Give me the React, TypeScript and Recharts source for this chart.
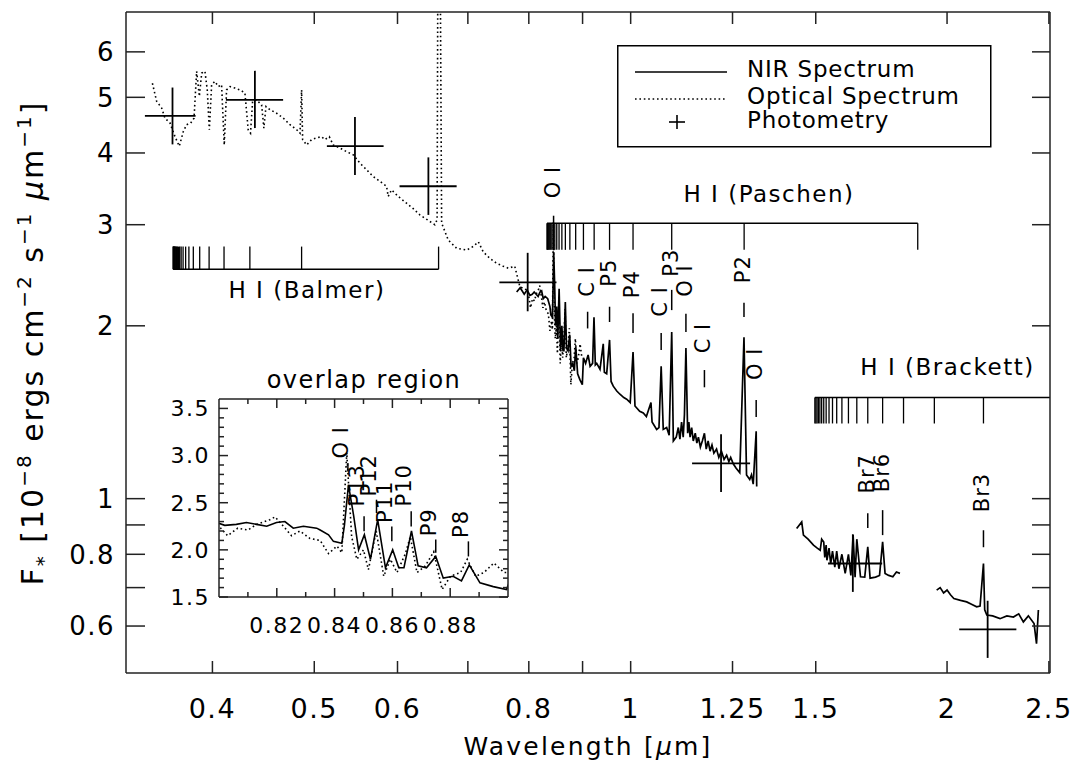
import React from 'react';
import { ComposedChart, Line, Scatter, XAxis, YAxis, ErrorBar, ReferenceLine, Legend } from 'recharts';

const FONT = '"DejaVu Sans", sans-serif';
const INK = '#000';
const FRAME = '#222';

// main axes (log-log)
const X_MIN = 0.331;
const X_MAX = 2.506;
const Y_MIN = 0.497;
const Y_MAX = 7.04;

const xTicks = [0.4, 0.5, 0.6, 0.7, 0.8, 0.9, 1, 1.25, 1.5, 2, 2.5];
const xTickLabels = ['0.4', '0.5', '0.6', '', '0.8', '', '1', '1.25', '1.5', '2', '2.5'];
const yTicks = [0.6, 0.7, 0.8, 0.9, 1, 2, 3, 4, 5, 6];
const yTickLabels = ['0.6', '', '0.8', '', '1', '2', '3', '4', '5', '6'];

// optical spectrum (dotted)
const optLam = [
  0.3507, 0.354, 0.3579, 0.3605, 0.3645, 0.3685, 0.372, 0.3753, 0.378, 0.3814, 0.3842, 0.3864, 0.3887,
  0.3907, 0.3935, 0.3955, 0.3973, 0.3993, 0.4022, 0.4052, 0.4081, 0.4105, 0.4126, 0.4157, 0.4202, 0.4248,
  0.4295, 0.4326, 0.4348, 0.4368, 0.4406, 0.4455, 0.4477, 0.4498, 0.4537, 0.4604, 0.4672, 0.4741, 0.4811,
  0.4846, 0.4863, 0.4874, 0.4917, 0.4971, 0.5026, 0.5081, 0.5118, 0.5167, 0.5212, 0.5289, 0.5367, 0.5446,
  0.5526, 0.5607, 0.5689, 0.5773, 0.5858, 0.5879, 0.5922, 0.601, 0.612, 0.621, 0.6301, 0.637, 0.644,
  0.6511, 0.6544, 0.6558, 0.6582, 0.6609, 0.6706, 0.6829, 0.6981, 0.7085, 0.7163, 0.724, 0.7347, 0.7455,
  0.7564, 0.7648, 0.7757, 0.7845, 0.7962,
  0.8, 0.803, 0.8065, 0.81, 0.813, 0.8176, 0.8194, 0.8223, 0.8251, 0.828, 0.8315, 0.835, 0.8379, 0.8408,
  0.8425, 0.8442, 0.8459, 0.8477, 0.85, 0.8517, 0.8544, 0.857, 0.8593, 0.8616, 0.8645, 0.8662, 0.8685,
  0.8714, 0.8743, 0.8772, 0.8801, 0.8836, 0.8859, 0.8888, 0.8917, 0.8951, 0.8986, 0.9,
];
const optF = [
  5.29, 4.92, 4.79, 4.6, 4.51, 4.27, 4.11, 4.36, 4.48, 4.51, 4.6, 5.55, 5.02,
  5.51, 5.55, 5.15, 4.39, 5.26, 5.33, 5.22, 5.26, 4.13, 5.15, 5.22, 5.19, 5.15,
  5.09, 4.39, 4.33, 4.92, 4.95, 4.85, 4.42, 4.82, 4.76, 4.69, 4.6, 4.48, 4.39,
  4.33, 5.15, 4.22, 4.13, 4.22, 4.25, 4.27, 4.22, 4.27, 4.13, 4.08, 4.02, 3.97,
  3.84, 3.74, 3.64, 3.57, 3.5, 3.36, 3.45, 3.36, 3.27, 3.2, 3.12, 3.08, 3.04,
  3.0, 3.06, 12, 12, 3.02, 2.82, 2.73, 2.71, 2.75, 2.8, 2.69, 2.62, 2.57,
  2.54, 2.52, 2.54, 2.34, 2.31,
  2.25, 2.15, 2.23, 2.21, 2.27, 2.32, 2.35, 2.25, 2.15, 2.2, 2.12, 2.1, 1.96, 2.04,
  1.97, 3.03, 2.14, 1.9, 2.0, 1.79, 2.2, 1.72, 1.9, 1.76, 1.96, 2.14, 1.76,
  1.83, 1.98, 1.58, 1.72, 1.76, 1.9, 1.72, 1.76, 1.86, 1.76, 1.76,
];

// NIR spectrum, J / H / K pieces (solid)
const nirJLam = [
  0.779, 0.785, 0.792, 0.797, 0.802, 0.806, 0.8095, 0.813, 0.8165, 0.8199, 0.8228, 0.8257, 0.8292, 0.8338,
  0.835, 0.8379, 0.8396, 0.8425, 0.8434, 0.8448, 0.8466, 0.8483, 0.8503, 0.8524, 0.8549, 0.8576, 0.8601,
  0.8622, 0.864, 0.8666, 0.8689, 0.8718, 0.875, 0.8776, 0.881, 0.8839, 0.8866, 0.8903, 0.8949, 0.8995,
  0.9017, 0.906, 0.911, 0.915, 0.92, 0.9228, 0.9255, 0.9283, 0.935, 0.9417, 0.944, 0.9488, 0.9548, 0.958,
  0.9626, 0.97, 0.9768, 0.985, 0.9913, 0.999, 1.0052, 1.0095, 1.02, 1.028, 1.035, 1.0455, 1.048, 1.0586,
  1.064, 1.0691, 1.074, 1.082, 1.088, 1.0941, 1.098, 1.105, 1.11, 1.114, 1.118, 1.122, 1.125, 1.1287,
  1.133, 1.136, 1.139, 1.143, 1.147, 1.152, 1.156, 1.16, 1.165, 1.17, 1.1754, 1.18, 1.185, 1.19, 1.195,
  1.2, 1.207, 1.213, 1.22, 1.227, 1.234, 1.24, 1.245, 1.252, 1.26, 1.27, 1.2818, 1.289, 1.298, 1.303,
  1.308, 1.3165, 1.318,
];
const nirJF = [
  2.29, 2.33, 2.27, 2.31, 2.26, 2.27, 2.29, 2.27, 2.25, 2.29, 2.3, 2.23, 2.25, 2.23,
  2.21, 2.16, 2.09, 2.07, 2.26, 2.69, 2.36, 2.0, 2.16, 1.9, 2.32, 1.81, 2.0,
  1.81, 1.81, 2.2, 1.83, 1.81, 1.93, 1.7, 1.72, 1.67, 1.84, 1.65, 1.61, 1.58,
  1.76, 1.72, 1.78, 1.7, 1.72, 2.07, 1.71, 1.72, 1.68, 1.86, 1.66, 1.65, 1.89, 1.6,
  1.57, 1.54, 1.52, 1.5, 1.49, 1.47, 1.8, 1.45, 1.42, 1.41, 1.39, 1.47, 1.36, 1.32,
  1.33, 1.7, 1.32, 1.33, 1.29, 1.95, 1.26, 1.28, 1.33, 1.27, 1.36, 1.28, 1.4, 1.83,
  1.3, 1.36, 1.28, 1.33, 1.26, 1.3, 1.25, 1.28, 1.23, 1.26, 1.3, 1.22, 1.26, 1.21, 1.24,
  1.2, 1.22, 1.18, 1.21, 1.17, 1.19, 1.16, 1.18, 1.15, 1.13, 1.11, 1.91, 1.1, 1.08, 1.1,
  1.06, 1.31, 1.05,
];
const nirHLam = [
  1.4386, 1.4546, 1.4601, 1.475, 1.4926, 1.505, 1.5147, 1.5196, 1.5265, 1.53, 1.5346, 1.5372, 1.5443,
  1.55, 1.5561, 1.564, 1.5705, 1.578, 1.5885, 1.6, 1.6114, 1.62, 1.628, 1.635, 1.6412, 1.6545, 1.67,
  1.6811, 1.6897, 1.71, 1.725, 1.7367, 1.746, 1.76, 1.776, 1.79, 1.804,
];
const nirHF = [
  0.887, 0.911, 0.864, 0.85, 0.83, 0.82, 0.813, 0.85, 0.84, 0.79, 0.83, 0.781, 0.82,
  0.77, 0.81, 0.76, 0.81, 0.755, 0.8, 0.741, 0.8, 0.735, 0.864, 0.73, 0.85, 0.731, 0.73,
  0.824, 0.727, 0.73, 0.735, 0.841, 0.741, 0.735, 0.731, 0.745, 0.741,
];
const nirKLam = [
  1.955, 1.97, 1.985, 2.0, 2.015, 2.03, 2.06, 2.088, 2.11, 2.134, 2.15, 2.1661, 2.172, 2.182, 2.21,
  2.246, 2.28, 2.313, 2.34, 2.364, 2.39, 2.42, 2.433, 2.443,
];
const nirKF = [
  0.693, 0.7, 0.685, 0.693, 0.68, 0.67, 0.665, 0.661, 0.655, 0.648, 0.65, 0.771, 0.64, 0.627, 0.625,
  0.618, 0.625, 0.622, 0.63, 0.61, 0.625, 0.606, 0.559, 0.64,
];

// photometry (centre and bar ends)
const photLam = [0.3665, 0.439, 0.5466, 0.642, 0.798, 1.219, 1.627, 2.186];
const photLamLo = [0.345, 0.412, 0.514, 0.6027, 0.75, 1.144, 1.541, 2.054];
const photLamHi = [0.3855, 0.467, 0.582, 0.683, 0.85, 1.299, 1.735, 2.328];
const photF = [4.64, 4.95, 4.11, 3.5, 2.38, 1.152, 0.771, 0.592];
const photFLo = [4.14, 4.42, 3.66, 3.12, 2.12, 1.027, 0.688, 0.528];
const photFHi = [5.2, 5.56, 4.62, 3.93, 2.68, 1.295, 0.867, 0.664];

// hydrogen series ladders (micron)
const balmerLam = [
  0.6565, 0.4863, 0.4342, 0.4103, 0.3971, 0.389, 0.3836, 0.3799, 0.3772, 0.3751, 0.3735, 0.3723,
  0.3713, 0.3704, 0.3698, 0.3692, 0.3687, 0.3683, 0.368, 0.3677, 0.3674, 0.3672, 0.367,
];
const paschenLam = [
  1.8756, 1.2822, 1.0941, 1.0052, 0.9548, 0.9231, 0.9017, 0.8865, 0.8753, 0.8667, 0.8601, 0.8548,
  0.8505, 0.8469, 0.844, 0.8415, 0.8394, 0.8376, 0.836, 0.8347, 0.8335, 0.8325,
];
const brackettLam = [
  2.6252, 2.1661, 1.9451, 1.8181, 1.7367, 1.6811, 1.6412, 1.6114, 1.5885, 1.5705, 1.5561, 1.5443,
  1.5346, 1.5265, 1.5196, 1.5137, 1.5087, 1.5043, 1.5004, 1.4971,
];
// ladder levels: [bar, tick end]
const balmerLevel = [2.509, 2.748];
const paschenLevel = [3.018, 2.712];
const brackettLevel = [1.501, 1.352];
const seriesTitle = ['H I (Balmer)', 'H I (Paschen)', 'H I (Brackett)'];
const seriesTitleLam = [0.492, 1.354, 2.002];
const seriesTitleF = [2.236, 3.291, 1.642];

// line identifications in main panel
const idName = ['O I', 'C I', 'P5', 'P4', 'C I', 'P3', 'O I', 'C I', 'P2', 'O I', 'Br7', 'Br6', 'Br3'];
const idLam = [0.8446, 0.91, 0.9548, 1.0052, 1.0691, 1.0941, 1.1287, 1.1754, 1.2818, 1.3165, 1.6811, 1.7367, 2.1661];
const idTextF = [3.337, 2.248, 2.34, 2.234, 2.075, 2.436, 2.248, 1.791, 2.372, 1.609, 1.021, 1.026, 0.947];
const idDashHi = [3.11, 2.116, 2.159, 2.104, 1.943, 2.31, 2.1, 1.675, 2.194, 1.485, 0.943, 0.955, 0.881];
const idDashLo = [2.71, 1.979, 2.031, 1.943, 1.815, 2.13, 1.95, 1.563, 2.072, 1.387, 0.889, 0.864, 0.823];

// inset ("overlap region")
const ovXTicks = [0.81, 0.82, 0.83, 0.84, 0.85, 0.86, 0.87, 0.88, 0.89];
const ovXLabeled = [0.82, 0.84, 0.86, 0.88];
const ovYTicks = [1.5, 1.6, 1.7, 1.8, 1.9, 2.0, 2.1, 2.2, 2.3, 2.4, 2.5, 2.6, 2.7, 2.8, 2.9, 3.0, 3.1, 3.2, 3.3, 3.4, 3.5];
const ovYLabeled = [1.5, 2.0, 2.5, 3.0, 3.5];
const ovIdName = ['O I', 'P13', 'P12', 'P11', 'P10', 'P9', 'P8'];
const ovIdLam = [0.8446, 0.8502, 0.8545, 0.8598, 0.8665, 0.875, 0.8863];
const ovIdTextF = [2.97, 2.461, 2.567, 2.285, 2.461, 2.143, 2.126];
const ovIdDashHi = [2.92, 2.357, 2.532, 2.249, 2.41, 2.11, 2.09];
const ovIdDashLo = [2.83, 2.198, 2.39, 2.09, 2.249, 1.97, 1.93];

const zip = (xs: number[], ys: number[]) => xs.map((x, i) => ({ x, y: ys[i] }));

const optData = zip(optLam, optF);
const nirJ = zip(nirJLam, nirJF);
const nirH = zip(nirHLam, nirHF);
const nirK = zip(nirKLam, nirKF);
const photData = photLam.map((x, i) => ({
  x,
  y: photF[i],
  ex: [x - photLamLo[i], photLamHi[i] - x],
  ey: [photF[i] - photFLo[i], photFHi[i] - photF[i]],
}));
const idData = idLam.map((x, i) => ({ x, y: idTextF[i], name: idName[i] }));
const titleData = seriesTitleLam.map((x, i) => ({ x, y: seriesTitleF[i], name: seriesTitle[i] }));
const ovIdData = ovIdLam.map((x, i) => ({ x, y: ovIdTextF[i], name: ovIdName[i] }));

type Side = 'bottom' | 'top' | 'left' | 'right';
const makeTick =
  (side: Side, lenOf: (v: number) => number, labelOf: (v: number) => string, fs: number, off: number) =>
  (p: any) => {
    const { x, y, payload } = p;
    const v = payload.value;
    const L = lenOf(v);
    let x2 = x;
    let y2 = y;
    if (side === 'bottom') y2 = y - L;
    else if (side === 'top') y2 = y + L;
    else if (side === 'left') x2 = x + L;
    else x2 = x - L;
    const lab = labelOf(v);
    let label = null;
    if (lab) {
      if (side === 'bottom') {
        label = (
          <text x={x} y={y + off} textAnchor="middle" fontSize={fs} fontFamily={FONT} fill={INK} letterSpacing={1.5}>
            {lab}
          </text>
        );
      } else if (side === 'left') {
        label = (
          <text x={x - off} y={y + fs * 0.36} textAnchor="end" fontSize={fs} fontFamily={FONT} fill={INK} letterSpacing={1.5}>
            {lab}
          </text>
        );
      }
    }
    return (
      <g>
        <line x1={x} y1={y} x2={x2} y2={y2} stroke={FRAME} strokeWidth={1.5} />
        {label}
      </g>
    );
  };

const none = () => '';
const xLab = (v: number) => xTickLabels[xTicks.indexOf(v)] || '';
const yLab = (v: number) => yTickLabels[yTicks.indexOf(v)] || '';
const near = (arr: number[], v: number) => arr.some((a) => Math.abs(a - v) < 1e-6);

const BottomTick = makeTick('bottom', () => 12, xLab, 27, 45);
const TopTick = makeTick('top', () => 12, none, 27, 0);
const LeftTick = makeTick('left', () => 19, yLab, 26, 11);
const RightTick = makeTick('right', () => 18, none, 26, 0);

const ovMajX = (v: number) => (near(ovXLabeled, v) ? 9 : 5);
const ovMajY = (v: number) => (near(ovYLabeled, v) ? 9 : 5);
const OvBottomTick = makeTick('bottom', ovMajX, (v) => (near(ovXLabeled, v) ? v.toFixed(2) : ''), 22, 36);
const OvTopTick = makeTick('top', ovMajX, none, 22, 0);
const OvLeftTick = makeTick('left', ovMajY, (v) => (near(ovYLabeled, v) ? v.toFixed(1) : ''), 22, 9);
const OvRightTick = makeTick('right', ovMajY, none, 22, 0);

const RotLabel = (dx: number, fs: number) => (p: any) => {
  const { cx, cy, payload } = p;
  const x = cx + dx;
  return (
    <text x={x} y={cy} transform={`rotate(-90 ${x} ${cy})`} fontSize={fs} fontFamily={FONT} fill={INK} letterSpacing={1}>
      {payload.name}
    </text>
  );
};
const FlatLabel = (p: any) => {
  const { cx, cy, payload } = p;
  return (
    <text x={cx} y={cy} textAnchor="middle" fontSize={23} fontFamily={FONT} fill={INK} letterSpacing={1.5}>
      {payload.name}
    </text>
  );
};

const XTitle = () => (
  <text x={588} y={755} textAnchor="middle" fontSize={25} fontFamily={FONT} fill={INK} letterSpacing={2.2}>
    Wavelength [<tspan fontStyle="italic">μ</tspan>m]
  </text>
);
const YTitle = () => (
  <text x={43} y={343} transform="rotate(-90 43 343)" textAnchor="middle" fontSize={30} fontFamily={FONT} fill={INK} letterSpacing={2}>
    F
    <tspan dy={7} fontSize={20}>*</tspan>
    <tspan dy={-7}> [10</tspan>
    <tspan dy={-12} fontSize={20}>−8</tspan>
    <tspan dy={12}> ergs cm</tspan>
    <tspan dy={-12} fontSize={20}>−2</tspan>
    <tspan dy={12}> s</tspan>
    <tspan dy={-12} fontSize={20}>−1</tspan>
    <tspan dy={12} fontStyle="italic">  μ</tspan>
    <tspan>m</tspan>
    <tspan dy={-12} fontSize={20}>−1</tspan>
    <tspan dy={12}>]</tspan>
  </text>
);

const LegendBox = () => (
  <svg width={375} height={103} style={{ display: 'block' }}>
    <rect x={0.75} y={0.75} width={373} height={101} fill="#fff" stroke={INK} strokeWidth={1.5} />
    <line x1={18} y1={27} x2={110} y2={27} stroke={INK} strokeWidth={1.6} />
    <text x={130} y={32} fontSize={23} fontFamily={FONT} fill={INK} letterSpacing={0.8}>NIR Spectrum</text>
    <line x1={18} y1={54} x2={110} y2={54} stroke={INK} strokeWidth={1.6} strokeDasharray="1.6 2.8" />
    <text x={130} y={59} fontSize={23} fontFamily={FONT} fill={INK} letterSpacing={0.8}>Optical Spectrum</text>
    <line x1={52} y1={77} x2={68} y2={77} stroke={INK} strokeWidth={1.6} />
    <line x1={60} y1={70} x2={60} y2={84} stroke={INK} strokeWidth={1.6} />
    <text x={130} y={83} fontSize={23} fontFamily={FONT} fill={INK} letterSpacing={0.8}>Photometry</text>
  </svg>
);

const ladder = (lams: number[], level: number[], key: string) => {
  const lo = Math.min(...lams);
  const hi = Math.max(...lams);
  const out = [
    <ReferenceLine
      key={`${key}-bar`}
      segment={[{ x: lo, y: level[0] }, { x: hi, y: level[0] }]}
      stroke={INK}
      strokeWidth={1.5}
      ifOverflow="hidden"
    />,
  ];
  lams.forEach((l, i) =>
    out.push(
      <ReferenceLine
        key={`${key}-${i}`}
        segment={[{ x: l, y: level[0] }, { x: l, y: level[1] }]}
        stroke={INK}
        strokeWidth={1.3}
        ifOverflow="hidden"
      />
    )
  );
  return out;
};

const dashes = (lams: number[], hi: number[], lo: number[], key: string, xId?: string, yId?: string) =>
  lams.map((l, i) => (
    <ReferenceLine
      key={`${key}-${i}`}
      xAxisId={xId ?? 0}
      yAxisId={yId ?? 0}
      segment={[{ x: l, y: hi[i] }, { x: l, y: lo[i] }]}
      stroke={INK}
      strokeWidth={1.5}
      ifOverflow="hidden"
    />
  ));

const OvTitle = () => (
  <text x={214} y={28} textAnchor="middle" fontSize={24} fontFamily={FONT} fill={INK} letterSpacing={1.5}>
    overlap region
  </text>
);

function Inset() {
  return (
    <div style={{ position: 'absolute', left: 150, top: 360 }}>
      <ComposedChart width={370} height={290} margin={{ top: 0, right: 0, bottom: 0, left: 0 }}>
        <XAxis
          xAxisId="b"
          dataKey="x"
          type="number"
          domain={[0.8, 0.9]}
          allowDataOverflow
          ticks={ovXTicks}
          interval={0}
          height={53}
          tickSize={0}
          tickMargin={0}
          tickLine={false}
          tick={OvBottomTick}
          axisLine={{ stroke: FRAME, strokeWidth: 1.5 }}
        />
        <XAxis
          xAxisId="t"
          orientation="top"
          dataKey="x"
          type="number"
          domain={[0.8, 0.9]}
          allowDataOverflow
          ticks={ovXTicks}
          interval={0}
          height={39}
          tickSize={0}
          tickMargin={0}
          tickLine={false}
          tick={OvTopTick}
          axisLine={{ stroke: FRAME, strokeWidth: 1.5 }}
          label={<OvTitle />}
        />
        <YAxis
          yAxisId="l"
          type="number"
          domain={[1.5, 3.6]}
          allowDataOverflow
          ticks={ovYTicks}
          interval={0}
          width={69}
          tickSize={0}
          tickMargin={0}
          tickLine={false}
          tick={OvLeftTick}
          axisLine={{ stroke: FRAME, strokeWidth: 1.5 }}
        />
        <YAxis
          yAxisId="r"
          orientation="right"
          type="number"
          domain={[1.5, 3.6]}
          allowDataOverflow
          ticks={ovYTicks}
          interval={0}
          width={12}
          tickSize={0}
          tickMargin={0}
          tickLine={false}
          tick={OvRightTick}
          axisLine={{ stroke: FRAME, strokeWidth: 1.5 }}
        />
        {dashes(ovIdLam, ovIdDashHi, ovIdDashLo, 'ovid', 'b', 'l')}
        <Line xAxisId="b" yAxisId="l" data={optData} dataKey="y" type="linear" stroke={INK} strokeWidth={1.6} strokeDasharray="1.6 2.8" dot={false} isAnimationActive={false} />
        <Line xAxisId="b" yAxisId="l" data={nirJ} dataKey="y" type="linear" stroke={INK} strokeWidth={1.6} dot={false} isAnimationActive={false} />
        <Scatter xAxisId="b" yAxisId="l" data={ovIdData} dataKey="y" shape={RotLabel(0, 21)} isAnimationActive={false} />
      </ComposedChart>
    </div>
  );
}

export default function App() {
  return (
    <div style={{ position: 'absolute', left: 0, top: 0, width: 1073, height: 764, background: '#fff' }}>
      <ComposedChart width={1073} height={764} margin={{ top: 0, right: 0, bottom: 0, left: 0 }}>
        <XAxis
          dataKey="x"
          type="number"
          scale="log"
          domain={[X_MIN, X_MAX]}
          allowDataOverflow
          ticks={xTicks}
          interval={0}
          height={91}
          tickSize={0}
          tickMargin={0}
          tickLine={false}
          tick={BottomTick}
          axisLine={{ stroke: FRAME, strokeWidth: 1.5 }}
          label={<XTitle />}
        />
        <XAxis
          xAxisId="top"
          orientation="top"
          dataKey="x"
          type="number"
          scale="log"
          domain={[X_MIN, X_MAX]}
          allowDataOverflow
          ticks={xTicks}
          interval={0}
          height={12}
          tickSize={0}
          tickMargin={0}
          tickLine={false}
          tick={TopTick}
          axisLine={{ stroke: FRAME, strokeWidth: 1.5 }}
        />
        <YAxis
          type="number"
          scale="log"
          domain={[Y_MIN, Y_MAX]}
          allowDataOverflow
          ticks={yTicks}
          interval={0}
          width={126}
          tickSize={0}
          tickMargin={0}
          tickLine={false}
          tick={LeftTick}
          axisLine={{ stroke: FRAME, strokeWidth: 1.5 }}
          label={<YTitle />}
        />
        <YAxis
          yAxisId="right"
          orientation="right"
          type="number"
          scale="log"
          domain={[Y_MIN, Y_MAX]}
          allowDataOverflow
          ticks={yTicks}
          interval={0}
          width={23}
          tickSize={0}
          tickMargin={0}
          tickLine={false}
          tick={RightTick}
          axisLine={{ stroke: FRAME, strokeWidth: 1.5 }}
        />
        {ladder(balmerLam, balmerLevel, 'balmer')}
        {ladder(paschenLam, paschenLevel, 'paschen')}
        {ladder(brackettLam, brackettLevel, 'brackett')}
        {dashes(idLam, idDashHi, idDashLo, 'id')}
        <Line data={optData} dataKey="y" type="linear" stroke={INK} strokeWidth={1.6} strokeDasharray="1.6 2.8" dot={false} isAnimationActive={false} name="Optical Spectrum" />
        <Line data={nirJ} dataKey="y" type="linear" stroke={INK} strokeWidth={1.7} dot={false} isAnimationActive={false} name="NIR Spectrum" />
        <Line data={nirH} dataKey="y" type="linear" stroke={INK} strokeWidth={1.7} dot={false} isAnimationActive={false} legendType="none" />
        <Line data={nirK} dataKey="y" type="linear" stroke={INK} strokeWidth={1.7} dot={false} isAnimationActive={false} legendType="none" />
        <Scatter data={photData} dataKey="y" shape={() => <g />} isAnimationActive={false} name="Photometry">
          <ErrorBar dataKey="ex" direction="x" width={0} stroke={INK} strokeWidth={1.8} />
          <ErrorBar dataKey="ey" direction="y" width={0} stroke={INK} strokeWidth={1.8} />
        </Scatter>
        <Scatter data={idData} dataKey="y" shape={RotLabel(6, 21)} isAnimationActive={false} legendType="none" />
        <Scatter data={titleData} dataKey="y" shape={FlatLabel} isAnimationActive={false} legendType="none" />
        <Legend
          layout="vertical"
          align="center"
          verticalAlign="middle"
          content={<LegendBox />}
          wrapperStyle={{ position: 'absolute', left: 617, top: 45, width: 375, height: 103 }}
        />
      </ComposedChart>
      <Inset />
    </div>
  );
}
